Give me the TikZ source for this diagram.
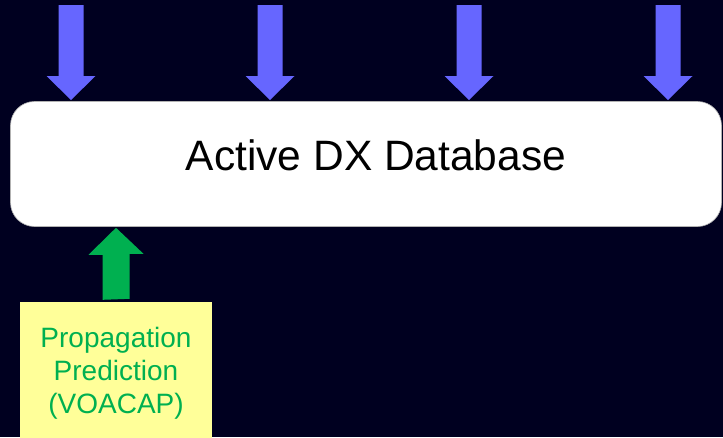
\documentclass[tikz,border=0pt]{standalone}
\usepackage{fontspec}
\setmainfont{Liberation Sans}
\usetikzlibrary{positioning}
\definecolor{navybg}{HTML}{000020}
\definecolor{feedblue}{HTML}{6666FF}
\definecolor{predgreen}{HTML}{00B050}
\definecolor{predyellow}{HTML}{FFFF99}

\begin{document}
\begin{tikzpicture}[x=1pt,y=-1pt,
  dbbox/.style={fill=white, draw=gray!60, line width=0.6pt, rounded corners=24pt, minimum width=711pt, minimum height=125pt, inner sep=0pt},
  predbox/.style={fill=predyellow, minimum width=192pt, minimum height=142pt, inner sep=0pt, align=center, text=predgreen, font=\fontsize{28}{33}\selectfont}]

% Draw background
\fill[navybg] (0,0) rectangle (723,437);
\useasboundingbox (0,0) rectangle (723,437);

% Draw database box
\node[dbbox] (db) at (366,164) {};
\node[anchor=base, font=\fontsize{42.5}{42.5}\selectfont] (dbtext) at (376,170) {Active DX Database};

% Draw incoming feeds
\foreach \x in {71,270,469,668}
  \fill[feedblue] (\x-12.5,5) -- (\x+12.5,5) -- (\x+12.5,76) -- (\x+24.5,76) -- (\x,100) -- (\x-24.5,76) -- (\x-12.5,76) -- cycle;

% Draw prediction box and its arrow
\node[predbox] (voacap) at (116,373) {Propagation\\Prediction\\(VOACAP)};
\fill[predgreen] ([xshift=-13.5pt,yshift=2pt]voacap.north) -- ++(0,-45) -- ++(-14,0) -- ([yshift=-1pt]db.south -| voacap.north) -- ++(27.5,26) -- ++(-14,0) -- ++(0,45) -- cycle;

\end{tikzpicture}
\end{document}
